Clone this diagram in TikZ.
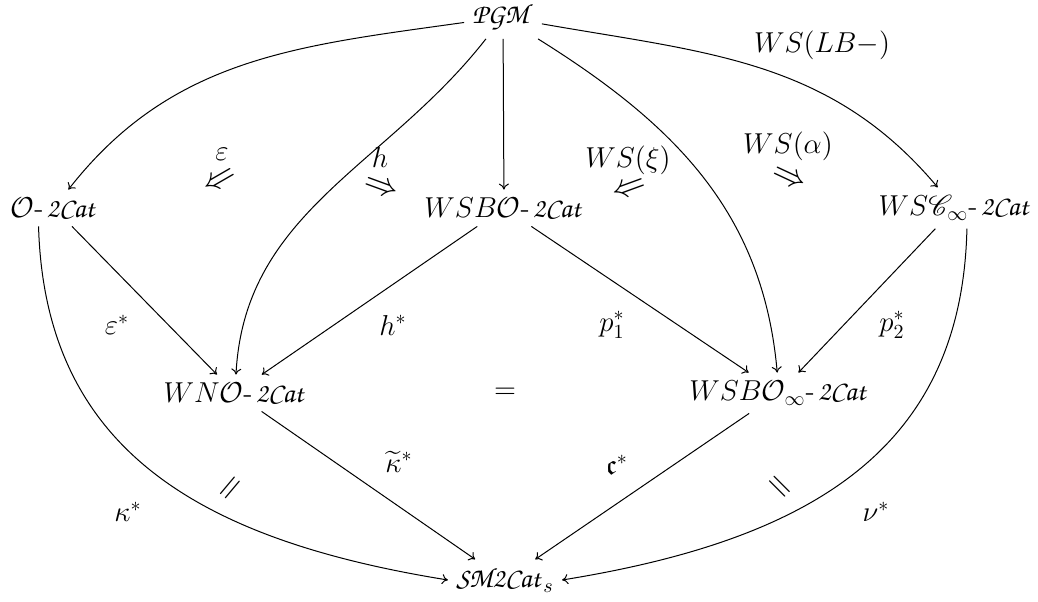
\documentclass[tikz,border=0pt]{standalone}
\usepackage{amsmath,amssymb,mathrsfs}
\DeclareMathAlphabet{\mathpzc}{OT1}{pzc}{m}{it}
\usetikzlibrary{arrows.meta}
\newcommand{\tCat}{\mathpzc{2Cat}}
\newcommand{\dsh}{\text{-}\mkern2mu}
\begin{document}
\begin{tikzpicture}[x=0.5pt,y=0.5pt,
  every node/.style={font=\fontsize{14}{16}\selectfont, inner sep=3pt},
  obj/.style={inner sep=4pt},
  lab/.style={inner sep=0pt},
  arr/.style={-{To[length=3pt,width=5pt]}, line width=0.5pt},
  dbl/.style={inner sep=0pt, scale=1.2}]
\useasboundingbox (0,0) rectangle (1038,-601);
% objects
\node[obj] (pgm) at (503,-17) {$\mathpzc{PGM}$};
\node[obj] (o2) at (54,-208) {$\mathcal{O}\dsh\tCat$};
\node[obj] (wsbo) at (504,-208) {$WSB\mathcal{O}\dsh\tCat$};
\node[obj] (wsc) at (955,-208) {$WS\mathscr{C}_{\infty}\dsh\tCat$};
\node[obj] (wno) at (235,-393) {$WN\mathcal{O}\dsh\tCat$};
\node[obj] (wsboinf) at (779,-393) {$WSB\mathcal{O}_{\infty}\dsh\tCat$};
\node[obj] (sm) at (505,-580) {$\mathpzc{SM2Cat}_s$};
\node[lab] (eq) at (505,-393) {$=$};
% connectors
\draw[arr] (pgm) to[out=188,in=52] (o2);
\draw[arr] (pgm) to[out=232,in=87] (wno);
\draw[arr] (pgm) -- (wsbo);
\draw[arr] (pgm) to[out=-32,in=95] (wsboinf);
\draw[arr] (pgm) to[out=-10,in=130] (wsc);
\draw[arr] (o2) -- (wno);
\draw[arr] (o2.230) .. controls (45,-450) and (200,-540) .. (sm.west);
\draw[arr] (wsbo) -- (wno);
\draw[arr] (wsbo) -- (wsboinf);
\draw[arr] (wsc) -- (wsboinf);
\draw[arr] (wsc.-60) .. controls (962,-450) and (810,-540) .. (sm.east);
\draw[arr] (wno) -- (sm);
\draw[arr] (wsboinf) -- (sm);
% 2-cells
\node[lab] (leps) at (222,-154) {$\varepsilon$};
\node[dbl,rotate=30] (aeps) at (220,-181) {$\Leftarrow$};
\node[lab] (lh) at (380,-157) {$h$};
\node[dbl,rotate=-20] (ah) at (381,-188) {$\Rightarrow$};
\node[lab] (lxi) at (628,-160) {$WS(\xi)$};
\node[dbl,rotate=20] (axi) at (630,-190) {$\Leftarrow$};
\node[lab] (lal) at (788,-146) {$WS(\alpha)$};
\node[dbl,rotate=-25] (aal) at (789,-179) {$\Rightarrow$};
% edge labels
\node[lab] (llb) at (822,-45) {$WS(LB-)$};
\node[lab] (les) at (117,-325) {$\varepsilon^*$};
\node[lab] (lhs) at (393,-325) {$h^*$};
\node[lab] (lp1) at (612,-325) {$p_1^*$};
\node[lab] (lp2) at (892,-325) {$p_2^*$};
\node[lab] (lkt) at (399,-462) {$\widetilde{\kappa}^*$};
\node[lab] (lc) at (617,-465) {$\mathfrak{c}^*$};
\node[lab] (lk) at (128,-512) {$\kappa^*$};
\node[lab] (lnu) at (876,-512) {$\nu^*$};
\node[lab,rotate=50,scale=1.2] (eq1) at (232,-489) {$=$};
\node[lab,rotate=-45,scale=1.2] (eq2) at (778,-488) {$=$};
\end{tikzpicture}
\end{document}
